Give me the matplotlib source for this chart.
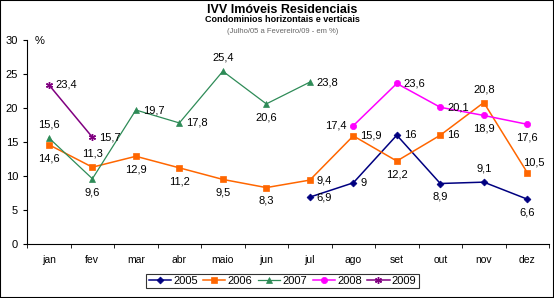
import numpy as np
import matplotlib.pyplot as plt

plt.rcParams['font.family'] = ['Liberation Sans', 'DejaVu Sans']

meses = ['jan', 'fev', 'mar', 'abr', 'maio', 'jun', 'jul', 'ago', 'set', 'out', 'nov', 'dez']
nan = np.nan
v2005 = [nan, nan, nan, nan, nan, nan, 6.9, 9, 16, 8.9, 9.1, 6.6]
v2006 = [14.6, 11.3, 12.9, 11.2, 9.5, 8.3, 9.4, 15.9, 12.2, 16, 20.8, 10.5]
v2007 = [15.6, 9.6, 19.7, 17.8, 25.4, 20.6, 23.8, nan, nan, nan, nan, nan]
v2008 = [nan, nan, nan, nan, nan, nan, nan, 17.4, 23.6, 20.1, 18.9, 17.6]
v2009 = [23.4, 15.7, nan, nan, nan, nan, nan, nan, nan, nan, nan, nan]

# posicao dos rotulos: r=direita, a=acima, b=abaixo, l=esquerda, u=acima/direita
series = [
    ('2005', v2005, '#000080', 'D', 3.5, '......rrrbab'),
    ('2006', v2006, '#FF6600', 's', 4.5, 'babbbbrrbrau'),
    ('2007', v2007, '#2E8B57', '^', 4, 'abrrabr.....'),
    ('2008', v2008, '#FF00FF', 'o', 4.5, '.......lrrbb'),
    ('2009', v2009, '#800080', (6, 2, 0), 5, 'rr..........'),
]

fig = plt.figure(figsize=(5.54, 2.98), dpi=100)
ax = fig.add_axes([0.049, 0.181, 0.942, 0.685])
x = np.arange(len(meses))

offs = {'r': (5, 0, 'left', 'center'), 'a': (0, 6, 'center', 'bottom'),
        'b': (0, -6, 'center', 'top'), 'l': (-5, 0, 'right', 'center'),
        'u': (-3, 4, 'left', 'bottom')}

for nome, vals, cor, mk, ms, pos in series:
    lw = 0.9 if nome == '2007' else 1.1
    ax.plot(x, vals, color=cor, marker=mk, markersize=ms, lw=lw, label=nome,
            markeredgewidth=1 if nome == '2009' else 0.5)
    for i, v in enumerate(vals):
        if np.isnan(v) or pos[i] == '.':
            continue
        dx, dy, ha, va = offs[pos[i]]
        txt = ('%g' % v).replace('.', ',')
        ax.annotate(txt, (i, v), xytext=(dx, dy), textcoords='offset points',
                    ha=ha, va=va, fontsize=8, color='black')

ax.set_xlim(-0.5, 11.5)
ax.set_ylim(0, 30)
ax.set_yticks(range(0, 31, 5))
ax.set_xticks(x)
ax.set_xticklabels(meses)
ax.set_xticks(np.arange(-0.5, 12, 1), minor=True)
ax.tick_params(axis='x', which='major', length=0, labelsize=7.5, pad=8)
ax.tick_params(axis='x', which='minor', length=3, direction='out')
ax.tick_params(axis='y', labelsize=8, length=3)
for s in ['top', 'right']:
    ax.spines[s].set_visible(False)
ax.text(0.015, 0.97, '%', transform=ax.transAxes, fontsize=8, va='bottom')

fig.text(0.51, 0.965, 'IVV Imóveis Residenciais', ha='center', va='center',
         fontsize=9, fontweight='bold')
fig.text(0.51, 0.935, 'Condominios horizontais e verticais', ha='center', va='center',
         fontsize=6.5, fontweight='bold')
fig.text(0.51, 0.895, '(Julho/05 a Fevereiro/09 - em %)', ha='center', va='center',
         fontsize=5.5, color='#666666')

leg = fig.legend(loc='center', bbox_to_anchor=(0.51, 0.057), ncol=5, fontsize=8,
                 frameon=True, fancybox=False, edgecolor='black', handlelength=2,
                 columnspacing=0.5, handletextpad=0.2, borderpad=0.2)
leg.get_frame().set_linewidth(0.8)

fig.patches.append(plt.Rectangle((0, 0), 1, 1, transform=fig.transFigure,
                                 fill=False, edgecolor='black', lw=1.5))
fig.savefig('out.png', dpi=100)
